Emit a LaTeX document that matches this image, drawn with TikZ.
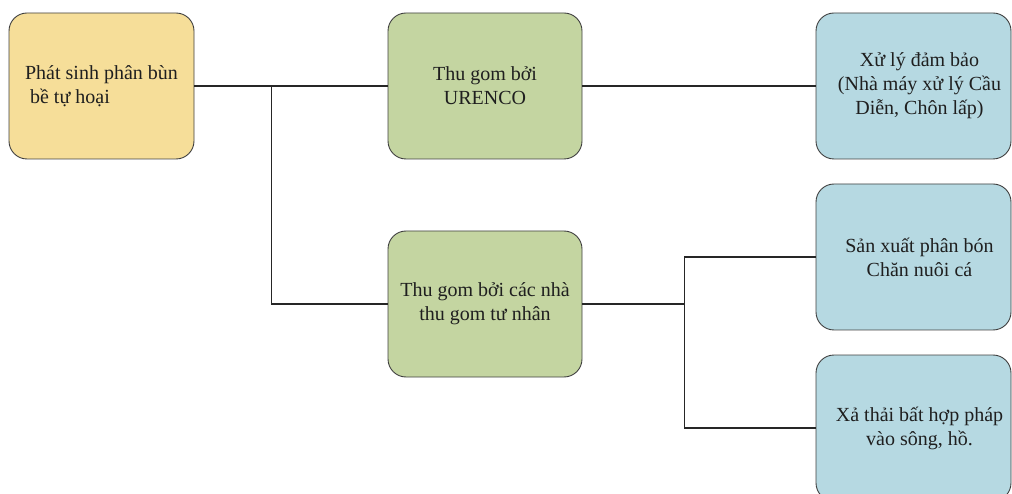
\documentclass[tikz,border=0pt]{standalone}
\usepackage{fontspec}
\setmainfont{Liberation Serif}
\usetikzlibrary{calc}
\begin{document}
\begin{tikzpicture}[x=1pt,y=-1pt,
  box/.style={draw=black!75, line width=0.9pt, rounded corners=18pt,
    minimum width=194pt, minimum height=146pt, inner sep=0pt,
    align=center, text=black!88,
    font=\fontsize{20}{24}\selectfont},
  srcbox/.style={box, fill=srcfill, minimum width=185pt, align=left},
  colbox/.style={box, fill=colfill},
  endbox/.style={box, fill=endfill, minimum width=195pt},
  link/.style={draw=black!85, line width=1.1pt}]
\definecolor{srcfill}{RGB}{246,222,153}
\definecolor{colfill}{RGB}{196,213,161}
\definecolor{endfill}{RGB}{182,217,226}
\useasboundingbox (0,0) rectangle (1012,494);
\clip (0,0) rectangle (1012,494);

% source
\node[srcbox] (src) at (101.5,86) {Phát sinh phân bùn\\\hspace{5pt}bề tự hoại};

% collectors
\node[colbox] (urenco) at (485,86) {Thu gom bởi\\URENCO};
\node[colbox] (priv) at (485,304) {Thu gom bởi các nhà\\thu gom tư nhân};

% destinations
\node[endbox] (safe) at (913.5,86) {\hspace{12pt}Xử lý đảm bảo\\\hspace{12pt}(Nhà máy xử lý Cầu\\\hspace{12pt}Diễn, Chôn lấp)};
\node[endbox] (fert) at (913.5,257) {\hspace{12pt}Sản xuất phân bón\\\hspace{12pt}Chăn nuôi cá};
\node[endbox] (dump) at (913.5,428) {\hspace{12pt}Xả thải bất hợp pháp\\\hspace{12pt}vào sông, hồ.};

% connectors
\coordinate (j1) at ($(src.east)!0.4!(urenco.west)$);
\path (priv.east) -- ++(102,0) coordinate (j2);
\draw[link] (src.east) -- (urenco.west);
\draw[link] (j1) |- (priv.west);
\draw[link] (urenco.east) -- (safe.west);
\draw[link] (priv.east) -- (j2);
\draw[link] (j2) |- (fert.west);
\draw[link] (j2) |- (dump.west);
\end{tikzpicture}
\end{document}
